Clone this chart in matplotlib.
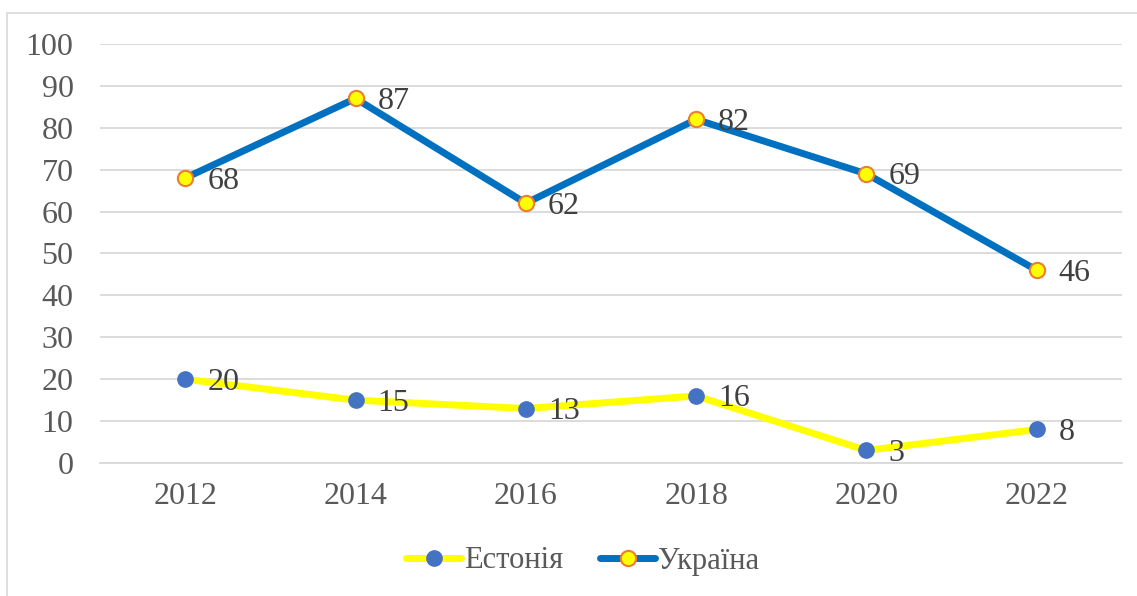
import matplotlib.pyplot as plt
from matplotlib.patches import Rectangle

years = ["2012", "2014", "2016", "2018", "2020", "2022"]
estonia = [20, 15, 13, 16, 3, 8]
ukraine = [68, 87, 62, 82, 69, 46]

plt.rcParams['font.family'] = ['Liberation Serif', 'DejaVu Serif']

W, H = 1137, 596
fig = plt.figure(figsize=(W / 100, H / 100), dpi=100)
ax = fig.add_axes([100 / W, (H - 463) / H, 1022 / W, (463 - 44) / H])

# рамка навколо діаграми
fig.patches.append(Rectangle((7 / W, -0.05), 1.1, (H - 13) / H + 0.05,
                             transform=fig.transFigure, fill=False,
                             edgecolor='#D9D9D9', linewidth=1.2))

x = range(len(years))
ax.plot(x, estonia, color='#FFFF00', linewidth=5, marker='o', markersize=11,
        markerfacecolor='#4472C4', markeredgecolor='#4472C4', label='Естонія',
        zorder=3, solid_capstyle='round')
ax.plot(x, ukraine, color='#0070C0', linewidth=5, marker='o', markersize=11,
        markerfacecolor='#FFFF00', markeredgecolor='#ED7D31', markeredgewidth=1.5,
        label='Україна', zorder=3, solid_capstyle='round')

for series in (estonia, ukraine):
    for i, v in enumerate(series):
        ax.annotate(str(v), (i, v), xytext=(22, -3), textcoords='offset pixels',
                    ha='left', va='center', fontsize=23, color='#404040', zorder=4)

ax.set_xlim(-0.5, 5.5)
ax.set_ylim(0, 100)
ax.set_yticks(range(0, 101, 10))
ax.set_xticks(list(x))
ax.set_xticklabels(years)
ax.grid(axis='y', color='#D9D9D9', linewidth=1.3)
ax.set_axisbelow(True)
for s in ['top', 'right', 'left']:
    ax.spines[s].set_visible(False)
ax.spines['bottom'].set_color('#D9D9D9')
ax.spines['bottom'].set_linewidth(1.3)
ax.tick_params(length=0, labelsize=23, labelcolor='#595959')
ax.tick_params(axis='x', pad=14)
ax.tick_params(axis='y', pad=19)

fig.legend(loc='center', bbox_to_anchor=(583 / W, (H - 561) / H), ncol=2,
           frameon=False, fontsize=22, labelcolor='#595959', handlelength=1.8,
           handletextpad=0.1, columnspacing=1.2)

fig.savefig('out.png', dpi=100)
